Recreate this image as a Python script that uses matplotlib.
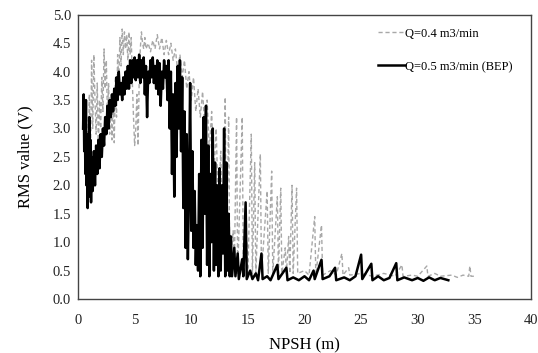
import matplotlib
matplotlib.use("Agg")
from matplotlib import pyplot as plt

# Q=0.5 m3/min (BEP)
bep_npsh = [0.45, 0.5, 0.55, 0.6, 0.65, 0.7, 0.75, 0.8, 0.85, 0.9, 0.95, 1.0, 1.05, 1.1, 1.15,
            1.2, 1.3, 1.4, 1.5, 1.6, 1.7, 1.8, 1.9, 2.0, 2.1, 2.2, 2.3, 2.4, 2.5, 2.6, 2.7, 2.8,
            2.9, 3.0, 3.1, 3.2, 3.3, 3.4, 3.5, 3.6, 3.7, 3.8, 3.9, 4.0, 4.1, 4.2, 4.3, 4.4, 4.5,
            4.6, 4.7, 4.8, 4.9, 5.0, 5.1, 5.2, 5.3, 5.4, 5.5, 5.6, 5.7, 5.8, 5.9, 6.0, 6.1, 6.2,
            6.3, 6.4, 6.5, 6.6, 6.7, 6.8, 6.9, 7.0, 7.1, 7.2, 7.3, 7.4, 7.5, 7.6, 7.7, 7.8, 7.9,
            8.0, 8.1, 8.2, 8.3, 8.4, 8.5, 8.6, 8.7, 8.8, 8.9, 9.0, 9.1, 9.2, 9.3, 9.4, 9.5, 9.6,
            9.7, 9.8, 9.9, 10.0, 10.1, 10.2, 10.3, 10.4, 10.5, 10.6, 10.7, 10.8, 10.9, 11.0, 11.1,
            11.2, 11.3, 11.4, 11.5, 11.6, 11.7, 11.8, 11.9, 12.0, 12.1, 12.2, 12.3, 12.4, 12.5,
            12.6, 12.7, 12.8, 12.9, 13.0, 13.1, 13.2, 13.3, 13.4, 13.5, 13.6, 13.8, 13.9, 14.1,
            14.2, 14.5, 14.6, 14.8, 14.9, 15.2, 15.4, 15.7, 15.9, 16.2, 16.3, 16.7, 17.0, 17.6,
            17.7, 18.4, 18.5, 19.0, 19.5, 20.0, 20.4, 20.8, 20.9, 21.5, 21.6, 22.2, 22.7, 22.8,
            23.5, 24.0, 24.5, 25.0, 25.1, 25.9, 26.0, 26.5, 27.0, 27.5, 28.1, 28.2, 28.8, 29.5,
            30.0, 30.5, 31.0, 31.5, 32.0, 32.7]
bep_rms = [3.0, 3.6, 2.6, 3.3, 2.2, 3.5, 2.0, 2.9, 1.6, 2.7, 1.8, 3.2, 2.0, 2.8, 1.7,
           2.5, 1.9, 2.6, 2.0, 2.7, 2.2, 2.8, 2.3, 2.9, 2.5, 3.0, 2.7, 3.2, 2.9, 3.4, 3.0, 3.5,
           3.2, 3.6, 3.3, 3.7, 3.4, 3.9, 3.5, 4.0, 3.6, 3.8, 3.5, 3.9, 3.6, 4.0, 3.7, 4.1, 3.7,
           4.2, 3.8, 4.2, 3.9, 4.25, 3.85, 4.2, 3.9, 4.3, 3.8, 4.2, 3.9, 4.25, 3.6, 4.1, 3.2, 4.0,
           3.8, 4.2, 3.9, 4.25, 3.8, 4.1, 3.7, 4.2, 3.6, 4.15, 3.4, 4.0, 3.7, 4.2, 3.9, 4.1, 3.5,
           4.2, 3.0, 4.0, 2.2, 3.6, 1.8, 3.8, 2.5, 4.1, 3.0, 4.2, 2.6, 3.9, 1.6, 3.3, 0.9, 2.9,
           0.7, 2.0, 3.8, 1.2, 2.6, 0.9, 1.9, 0.6, 1.3, 0.5, 2.2, 0.4, 2.8, 0.9, 3.2,
           1.5, 3.4, 0.6, 2.7, 0.4, 2.2, 1.0, 3.0, 0.5, 2.4, 0.6, 2.0, 0.4, 2.3,
           0.5, 2.0, 0.8, 3.0, 0.4, 2.4, 0.5, 1.5, 0.4, 1.1, 0.4, 0.9, 0.4, 0.8,
           0.35, 0.7, 0.4, 1.7, 0.35, 0.5, 0.35, 0.45, 0.33, 0.8, 0.35, 0.4, 0.33, 0.6,
           0.35, 0.55, 0.33, 0.38, 0.33, 0.4, 0.33, 0.5, 0.35, 0.69, 0.35, 0.4, 0.55, 0.33,
           0.38, 0.33, 0.4, 0.78, 0.35, 0.62, 0.33, 0.4, 0.33, 0.37, 0.63, 0.33, 0.38, 0.33,
           0.37, 0.32, 0.38, 0.33, 0.37, 0.33]

# Q=0.4 m3/min
low_npsh = [0.5, 0.6, 0.7, 0.8, 0.9, 1.0, 1.1, 1.2, 1.3, 1.4, 1.5, 1.6, 1.7, 1.8, 1.9, 2.0,
            2.1, 2.2, 2.3, 2.4, 2.5, 2.6, 2.7, 2.8, 2.9, 3.0, 3.1, 3.2, 3.3, 3.4, 3.5, 3.6, 3.7,
            3.8, 3.9, 4.0, 4.1, 4.2, 4.3, 4.4, 4.5, 4.6, 4.7, 4.8, 4.9, 5.0, 5.1, 5.2, 5.3, 5.4,
            5.5, 5.6, 5.7, 5.8, 5.9, 6.0, 6.2, 6.4, 6.6, 6.8, 7.0, 7.2, 7.4, 7.6, 7.8, 8.0, 8.2,
            8.4, 8.6, 8.8, 9.0, 9.2, 9.4, 9.6, 9.8, 10.0, 10.2, 10.4, 10.6, 10.8, 11.0, 11.2,
            11.4, 11.6, 11.8, 12.0, 12.2, 12.4, 12.6, 12.8, 13.0, 13.1, 13.3, 13.4, 13.7, 13.8,
            14.0, 14.1, 14.5, 14.6, 14.9, 15.0, 15.3, 15.4, 15.6, 15.7, 16.1, 16.2, 16.7, 16.8,
            17.1, 17.2, 17.6, 17.7, 17.9, 18.0, 18.3, 18.4, 18.6, 18.7, 18.9, 19.0, 19.3, 19.4,
            20.0, 20.4, 20.9, 21.0, 21.5, 21.6, 22.3, 22.8, 23.3, 23.4, 23.9, 24.0, 25.0, 26.0,
            27.0, 28.0, 28.6, 28.7, 29.5, 30.0, 30.8, 30.9, 31.5, 32.0, 33.0, 33.5, 34.0, 34.5,
            34.6, 34.7, 35.0]
low_rms = [2.8, 3.4, 2.5, 3.2, 2.2, 3.6, 2.4, 4.2, 3.0, 4.3, 3.5, 2.9, 3.8, 2.6, 3.5, 3.0,
           3.9, 3.3, 4.4, 3.7, 4.2, 3.2, 3.8, 2.9, 3.4, 2.8, 3.5, 2.75, 3.9, 3.2, 4.3, 3.8, 4.6,
           4.1, 4.75, 4.3, 4.7, 4.4, 4.65, 4.2, 4.7, 4.3, 4.6, 3.8, 3.2, 2.7, 3.0, 3.6, 2.7, 3.8,
           4.4, 4.7, 4.5, 4.4, 4.6, 4.4, 4.5, 4.35, 4.55, 4.4, 4.65, 4.4, 4.6, 4.3, 4.55, 4.3, 4.5,
           4.2, 4.4, 4.0, 4.3, 3.9, 4.2, 3.7, 4.0, 3.5, 3.9, 3.3, 3.7, 3.2, 3.65, 3.0,
           3.5, 2.6, 3.3, 2.2, 3.0, 1.5, 2.6, 0.9, 3.55, 0.6, 3.2, 0.5, 1.2, 0.5,
           3.2, 0.45, 3.2, 0.45, 1.0, 0.45, 2.9, 0.45, 2.4, 0.45, 2.55, 0.45, 1.9, 0.45,
           2.25, 0.45, 1.8, 0.45, 1.95, 0.45, 0.9, 0.45, 1.1, 0.45, 2.0, 0.45, 1.95, 0.45,
           0.5, 0.42, 1.45, 0.42, 1.3, 0.42, 0.5, 0.42, 0.8, 0.42, 0.55, 0.42, 0.45, 0.4,
           0.45, 0.4, 0.6, 0.4, 0.42, 0.4, 0.58, 0.4, 0.45, 0.4, 0.42, 0.38, 0.42, 0.4,
           0.58, 0.4, 0.4]

x_ticks = [0, 5, 10, 15, 20, 25, 30, 35, 40]
y_ticks = [0.0, 0.5, 1.0, 1.5, 2.0, 2.5, 3.0, 3.5, 4.0, 4.5, 5.0]


def main():
    plt.rcParams["font.family"] = ["Liberation Serif", "DejaVu Serif"]
    fig = plt.figure(figsize=(5.38, 3.53), dpi=100)
    ax = fig.add_axes([0.145, 0.153, 0.842, 0.805])

    ax.plot(low_npsh, low_rms, color="#a8a8a8", lw=1.0, dashes=(3, 2),
            label="Q=0.4 m3/min")
    ax.plot(bep_npsh, bep_rms, color="black", lw=1.8, label="Q=0.5 m3/min (BEP)")

    ax.set_xlim(0, 40)
    ax.set_ylim(0, 5)
    ax.set_xticks(x_ticks)
    ax.set_yticks(y_ticks)
    ax.set_yticklabels([f"{v:.1f}" for v in y_ticks])
    ax.tick_params(length=0, labelsize=10.5, colors="#222222")
    ax.tick_params(axis="x", pad=11)
    ax.tick_params(axis="y", pad=5)
    for s in ax.spines.values():
        s.set_color("#444444")
        s.set_linewidth(1.0)

    ax.set_xlabel("NPSH (m)", fontsize=12, labelpad=7)
    ax.set_ylabel("RMS value (V)", fontsize=12, labelpad=14)

    ax.legend(loc="upper left", bbox_to_anchor=(0.663, 0.955), frameon=False,
              fontsize=9.0, handlelength=2.1, handletextpad=0.05, labelspacing=1.7,
              borderpad=0, borderaxespad=0)

    fig.savefig("out.png", dpi=100)


if __name__ == "__main__":
    main()
